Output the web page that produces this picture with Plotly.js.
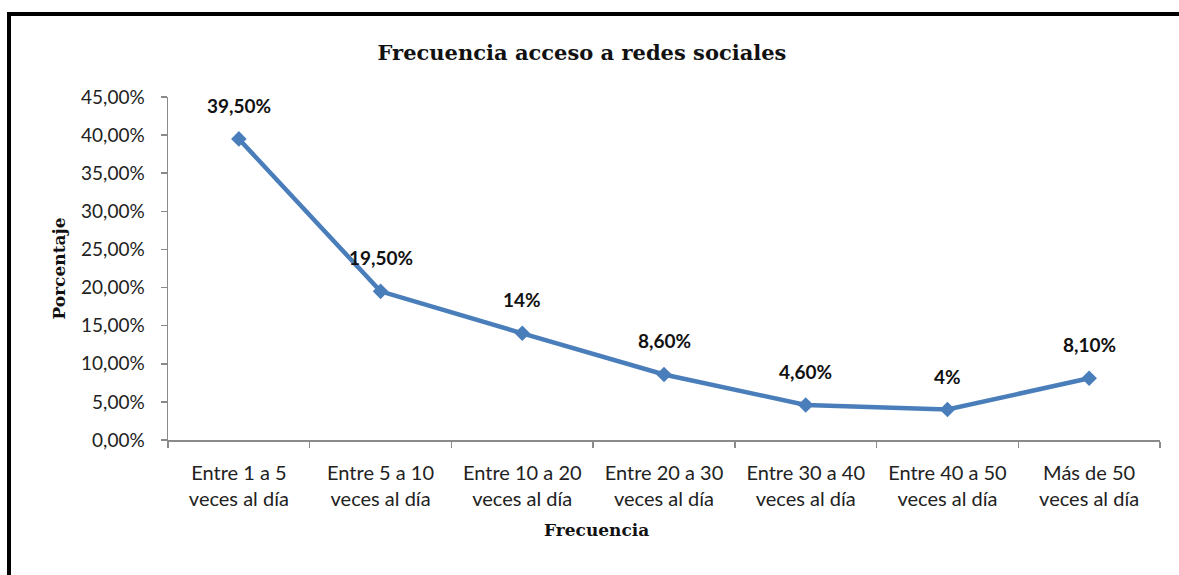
<!DOCTYPE html>
<html>
<head>
<meta charset="utf-8">
<script src="https://cdn.plot.ly/plotly-3.0.1.min.js"></script>
<style>
  html, body { margin: 0; padding: 0; background: #ffffff; }
  #wrap { position: relative; width: 1179px; height: 575px; overflow: hidden; background: #fff; }
  #frame { position: absolute; left: 7px; top: 12px; width: 1200px; height: 600px;
           border-top: 4px solid #000; border-left: 4px solid #000; pointer-events: none; }
  #chart { position: absolute; left: 0; top: 0; width: 1179px; height: 575px; }
</style>
</head>
<body>
<div id="wrap">
  <div id="chart"></div>
  <div id="frame"></div>
</div>
<script>
const categories = [
  "Entre 1 a 5<br>veces al día",
  "Entre 5 a 10<br>veces al día",
  "Entre 10 a 20<br>veces al día",
  "Entre 20 a 30<br>veces al día",
  "Entre 30 a 40<br>veces al día",
  "Entre 40 a 50<br>veces al día",
  "Más de 50<br>veces al día"
];
const values = [39.5, 19.5, 14, 8.6, 4.6, 4, 8.1];
const valueLabels = ["39,50%", "19,50%", "14%", "8,60%", "4,60%", "4%", "8,10%"];
const yTickValues = [0, 5, 10, 15, 20, 25, 30, 35, 40, 45];
const yTickLabels = ["0,00%", "5,00%", "10,00%", "15,00%", "20,00%", "25,00%", "30,00%", "35,00%", "40,00%", "45,00%"];

const lineColor = "#4A7EBB";
const sansFont = "Lato, 'Open Sans', sans-serif";
const serifBold = "'DejaVu Serif', 'Liberation Serif', serif";

const trace = {
  type: "scatter",
  mode: "lines+markers",
  x: categories,
  y: values,
  line: { color: lineColor, width: 4.5 },
  marker: { symbol: "diamond", size: 12, color: lineColor },
  hoverinfo: "skip"
};

const annotations = categories.map((c, i) => ({
  x: c, y: values[i], xref: "x", yref: "y",
  text: valueLabels[i], showarrow: false,
  yanchor: "bottom", yshift: 20,
  font: { family: sansFont, size: 19, color: "#111", weight: "bold" }
}));

annotations.push({
  text: "<b>Frecuencia</b>", showarrow: false,
  xref: "paper", yref: "paper", x: (596 - 168) / 992, y: -(530 - 440) / 343,
  xanchor: "center", yanchor: "middle",
  font: { family: serifBold, size: 17, color: "#111" }
});
annotations.push({
  text: "<b>Porcentaje</b>", showarrow: false, textangle: -90,
  xref: "paper", yref: "paper", x: (58 - 168) / 992, y: 0.5,
  xanchor: "center", yanchor: "middle",
  font: { family: serifBold, size: 17, color: "#111" }
});

const layout = {
  width: 1179, height: 575,
  margin: { l: 168, r: 19, t: 97, b: 135 },
  paper_bgcolor: "rgba(0,0,0,0)",
  plot_bgcolor: "rgba(0,0,0,0)",
  showlegend: false,
  title: {
    text: "<b>Frecuencia acceso a redes sociales</b>",
    font: { family: serifBold, size: 21, color: "#111" },
    x: (582 - 168) / 992, xanchor: "center", xref: "paper",
    y: 1 - 53 / 575, yanchor: "middle", yref: "container"
  },
  xaxis: {
    type: "category",
    range: [-0.5, 6.5],
    showline: true, linecolor: "#8a8a8a", linewidth: 1.5,
    ticks: "outside", ticklen: 6, tickcolor: "#8a8a8a", tickwidth: 1.5,
    tickson: "boundaries",
    showgrid: false, zeroline: false,
    tickfont: { family: sansFont, size: 20, color: "#222" },
    ticklabelstandoff: 14
  },
  yaxis: {
    range: [0, 45],
    tickmode: "array",
    tickvals: yTickValues,
    ticktext: yTickLabels,
    showline: true, linecolor: "#8a8a8a", linewidth: 1.5,
    ticks: "outside", ticklen: 6, tickcolor: "#8a8a8a", tickwidth: 1.5,
    showgrid: false, zeroline: false,
    tickfont: { family: sansFont, size: 19, color: "#222" },
    ticklabelstandoff: 12
  },
  annotations: annotations
};

Plotly.newPlot("chart", [trace], layout, { displayModeBar: false, staticPlot: true });
</script>
</body>
</html>
